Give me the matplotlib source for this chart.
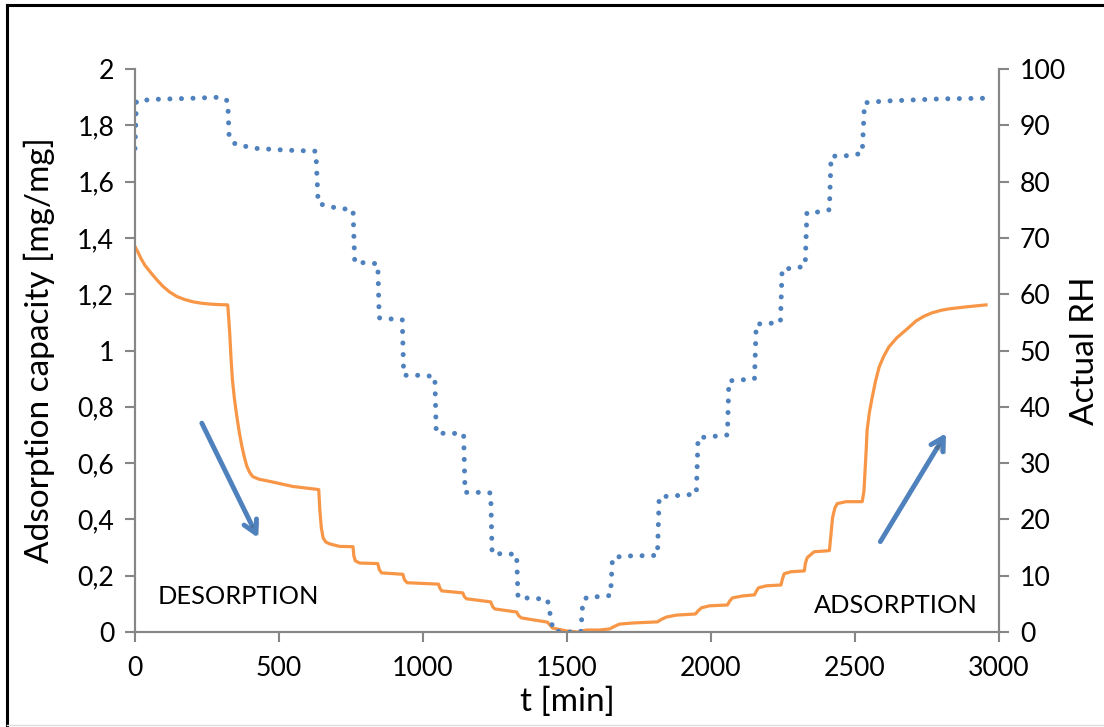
import numpy as np
import matplotlib
matplotlib.use("Agg")
import matplotlib.pyplot as plt
from matplotlib.ticker import FuncFormatter, MultipleLocator
from matplotlib.lines import Line2D
import matplotlib.patheffects as pe

plt.rcParams['font.family'] = ['Lato', 'DejaVu Sans']

# relative humidity (dotted, right axis)
t_rh = [0, 5, 60, 200, 302, 322, 327, 350, 420, 520, 628, 636, 700, 757,
        763, 800, 843, 848, 890, 928, 933, 980, 1041, 1046, 1100, 1141,
        1146, 1190, 1235, 1240, 1280, 1325, 1330, 1380, 1432, 1452, 1500,
        1548, 1555, 1570, 1620, 1651, 1658, 1700, 1814, 1820, 1900, 1949,
        1955, 2000, 2057, 2062, 2110, 2151, 2157, 2200, 2241, 2247, 2290,
        2327, 2333, 2370, 2411, 2417, 2470, 2525, 2533, 2600, 2700, 2800,
        2945]
rh = [85.9, 94.3, 94.6, 94.8, 95.0, 94.3, 87.7, 86.6, 85.9, 85.6, 85.4,
      76.1, 75.3, 75.0, 65.6, 65.6, 65.4, 55.8, 55.6, 55.5, 45.6, 45.6,
      45.4, 35.3, 35.3, 35.2, 24.8, 24.8, 24.7, 13.9, 13.9, 13.8, 6.1, 6.0,
      5.8, 0.2, 0.0, 0.0, 5.5, 6.2, 6.3, 6.5, 13.2, 13.5, 13.6, 24.0, 24.3,
      24.5, 34.5, 34.7, 35.0, 44.6, 44.8, 45.0, 54.7, 54.8, 55.0, 64.5,
      64.6, 65.0, 74.5, 74.6, 75.0, 84.5, 84.6, 85.0, 94.0, 94.3, 94.5,
      94.7, 94.8]

# adsorption capacity (solid, left axis)
t_q = [0, 10, 20, 35, 52, 75, 97, 120, 145, 170, 201, 230, 260, 290, 322,
       325, 329, 333, 338, 345, 353, 362, 371, 380, 388, 398, 409, 430,
       468, 548, 638, 642, 647, 653, 662, 676, 711, 757, 760, 765, 780,
       843, 848, 856, 930, 936, 945, 1054, 1059, 1065, 1138, 1144, 1151,
       1235, 1242, 1249, 1325, 1333, 1342, 1432, 1450, 1498, 1537, 1567,
       1613, 1648, 1665, 1682, 1728, 1814, 1830, 1845, 1880, 1946, 1956,
       1967, 1995, 2057, 2065, 2074, 2109, 2151, 2158, 2165, 2192, 2243,
       2248, 2254, 2278, 2324, 2328, 2334, 2358, 2411, 2415, 2422, 2430,
       2438, 2469, 2525, 2531, 2535, 2539, 2542, 2550, 2560, 2571, 2584,
       2600, 2618, 2645, 2677, 2712, 2740, 2768, 2800, 2827, 2886, 2955]
q = [1.369, 1.35, 1.328, 1.302, 1.28, 1.252, 1.228, 1.208, 1.192, 1.182,
     1.173, 1.168, 1.165, 1.163, 1.162, 1.12, 1.06, 0.98, 0.9, 0.83, 0.77,
     0.71, 0.66, 0.62, 0.59, 0.567, 0.552, 0.543, 0.535, 0.517, 0.506,
     0.43, 0.37, 0.335, 0.32, 0.313, 0.304, 0.303, 0.27, 0.253, 0.245,
     0.243, 0.222, 0.21, 0.205, 0.185, 0.175, 0.17, 0.155, 0.146, 0.139,
     0.125, 0.118, 0.107, 0.09, 0.082, 0.071, 0.057, 0.05, 0.035, 0.014,
     0.004, 0.0, 0.007, 0.007, 0.011, 0.02, 0.028, 0.032, 0.036, 0.046,
     0.053, 0.06, 0.064, 0.076, 0.086, 0.093, 0.096, 0.11, 0.121, 0.128,
     0.132, 0.146, 0.157, 0.164, 0.167, 0.188, 0.207, 0.214, 0.217, 0.245,
     0.264, 0.285, 0.289, 0.33, 0.406, 0.44, 0.456, 0.463, 0.463, 0.5,
     0.574, 0.65, 0.717, 0.78, 0.835, 0.89, 0.942, 0.98, 1.013, 1.045,
     1.073, 1.105, 1.122, 1.134, 1.143, 1.148, 1.155, 1.162]

ORANGE = '#F79646'
BLUE = '#4F81BD'
GREY = '#868686'

fig = plt.figure(figsize=(11.04, 7.27), dpi=100)
ax = fig.add_axes([135/1104, 1-632/727, 864/1104, 563/727])
ax2 = ax.twinx()

ax.plot(t_q, q, color=ORANGE, lw=2.3, solid_joinstyle='round')
ax2.plot(t_rh, rh, color=BLUE, lw=3.6, linestyle=(0, (0.01, 2.3)),
         dash_capstyle='round')

ax.set_xlim(0, 3000)
ax.set_ylim(0, 2)
ax2.set_ylim(0, 100)
ax.xaxis.set_major_locator(MultipleLocator(500))
ax.yaxis.set_major_locator(MultipleLocator(0.2))
ax2.yaxis.set_major_locator(MultipleLocator(10))
ax.yaxis.set_major_formatter(FuncFormatter(lambda v, p: ('%g' % round(v, 1)).replace('.', ',')))

for a in (ax, ax2):
    a.spines['top'].set_visible(False)
    for s in ('left', 'right', 'bottom'):
        a.spines[s].set_color(GREY)
        a.spines[s].set_linewidth(1.5)
    a.tick_params(colors=GREY, labelcolor='black', width=1.5, length=7,
                  labelsize=19.2, pad=8)
ax.tick_params(axis='x', pad=10)

ax.set_xlabel('t [min]', fontsize=24)
ax.xaxis.set_label_coords(0.5, -0.098)
ax.set_ylabel('Adsorption capacity [mg/mg]', fontsize=24)
ax.yaxis.set_label_coords(-0.093, 0.5)
ax2.set_ylabel('Actual RH', fontsize=24)
ax2.yaxis.set_label_coords(1.082, 0.5)

ax.text(80, 0.1, 'DESORPTION', fontsize=18.3, va='baseline')
ax.text(2359, 0.068, 'ADSORPTION', fontsize=18.3, va='baseline')

# arrows with a light drop shadow
for (x0, y0), (x1, y1) in [((232, 0.742), (427, 0.335)),
                           ((2588, 0.321), (2816, 0.706))]:
    ann = ax.annotate('', xy=(x1, y1), xytext=(x0, y0),
                      arrowprops=dict(arrowstyle='->,head_length=0.9,head_width=0.5',
                                      color=BLUE, lw=3.5, shrinkA=0, shrinkB=0))
    ann.arrow_patch.set_path_effects([pe.SimplePatchShadow(offset=(2, -2), alpha=0.3), pe.Normal()])

# outer frame
fig.add_artist(Line2D([7/1104, 7/1104], [0, 1-5/727], color='black', lw=2.2))
fig.add_artist(Line2D([7/1104, 1], [1-5/727, 1-5/727], color='black', lw=2.2))
fig.add_artist(Line2D([7/1104, 1], [2/727, 2/727], color='#dddddd', lw=1))

fig.savefig('out.png', dpi=100)
